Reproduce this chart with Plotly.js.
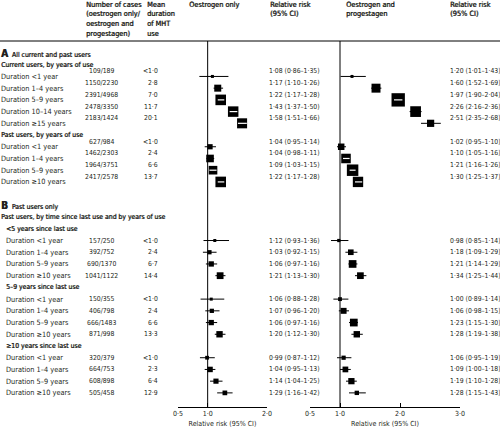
<!DOCTYPE html>
<html><head><meta charset="utf-8">
<script src="https://cdn.plot.ly/plotly-3.0.1.min.js"></script>
<style>html,body{margin:0;padding:0;background:#fff}</style>
</head><body><div id="chart" style="width:500px;height:428px"></div>
<script>
// ---------- data ----------
const sectionLetters = ["A", "B"];
const sectionTitles = ["All current and past users", "Past users only"];
const sectionBSubtitle = "Past users, by time since last use and by years of use";
const groupTitles = ["Current users, by years of use", "Past users, by years of use",
  "<5 years since last use", "5–9 years since last use", "≥10 years since last use"];
const groupSizes = [5, 4, 4, 4, 4];
const rowLabels = [
  "Duration <1 year", "Duration 1–4 years", "Duration 5–9 years", "Duration 10–14 years", "Duration ≥15 years",
  "Duration <1 year", "Duration 1–4 years", "Duration 5–9 years", "Duration ≥10 years",
  "Duration <1 year", "Duration 1–4 years", "Duration 5–9 years", "Duration ≥10 years",
  "Duration <1 year", "Duration 1–4 years", "Duration 5–9 years", "Duration ≥10 years",
  "Duration <1 year", "Duration 1–4 years", "Duration 5–9 years", "Duration ≥10 years"];
const casesEO = [109, 1150, 2391, 2478, 2183, 627, 1462, 1964, 2417, 157, 392, 690, 1041, 150, 406, 666, 871, 320, 664, 608, 505];
const casesEP = [189, 2230, 4968, 3350, 1424, 984, 2303, 3751, 2578, 250, 752, 1370, 1122, 355, 798, 1483, 998, 379, 753, 898, 458];
const meanDuration = ["<1·0", "2·8", "7·0", "11·7", "20·1", "<1·0", "2·4", "6·6", "13·7",
  "<1·0", "2·4", "6·7", "14·4", "<1·0", "2·4", "6·6", "13·3", "<1·0", "2·3", "6·4", "12·9"];
const eoRR = [1.08, 1.17, 1.22, 1.43, 1.58, 1.04, 1.04, 1.09, 1.22, 1.12, 1.03, 1.06, 1.21, 1.06, 1.07, 1.06, 1.20, 0.99, 1.04, 1.14, 1.29];
const eoLo = [0.86, 1.10, 1.17, 1.37, 1.51, 0.95, 0.98, 1.03, 1.17, 0.93, 0.92, 0.97, 1.13, 0.88, 0.96, 0.97, 1.12, 0.87, 0.95, 1.04, 1.16];
const eoHi = [1.35, 1.26, 1.28, 1.50, 1.66, 1.14, 1.11, 1.15, 1.28, 1.36, 1.15, 1.16, 1.30, 1.28, 1.20, 1.16, 1.30, 1.12, 1.13, 1.25, 1.42];
const epRR = [1.20, 1.60, 1.97, 2.26, 2.51, 1.02, 1.10, 1.21, 1.30, 0.98, 1.18, 1.21, 1.34, 1.00, 1.06, 1.23, 1.28, 1.06, 1.09, 1.19, 1.28];
const epLo = [1.01, 1.52, 1.90, 2.16, 2.35, 0.95, 1.05, 1.16, 1.25, 0.85, 1.09, 1.14, 1.25, 0.89, 0.98, 1.15, 1.19, 0.95, 1.00, 1.10, 1.15];
const epHi = [1.43, 1.69, 2.04, 2.36, 2.68, 1.10, 1.16, 1.26, 1.37, 1.14, 1.29, 1.29, 1.44, 1.14, 1.15, 1.30, 1.38, 1.19, 1.18, 1.28, 1.43];
const eoTickVals = [0.5, 1, 2];
const eoTickText = ["0·5", "1·0", "2·0"];
const epTickVals = [0.5, 1, 2, 3];
const epTickText = ["0·5", "1·0", "2·0", "3·0"];
const headCases = ["Number of cases", "(oestrogen only/", "oestrogen and", "progestagen)"];
const headMean = ["Mean", "duration", "of MHT", "use"];
const headEO = ["Oestrogen only"];
const headRR = ["Relative risk", "(95% CI)"];
const headEP = ["Oestrogen and", "progestagen"];
const axisTitle = "Relative risk (95% CI)";

// ---------- layout geometry ----------
const W = 500, H = 428;
const FONT = "'DejaVu Sans Condensed', 'Liberation Sans', sans-serif";
const TXT = "#231f20";
const BOLD = '0.45px 0 0 #231f20';
const FS = 7.3, FSN = 6.8, FSH = 7.3, FSG = 6.8;
const rowTop = 53, rowPitch = 11.72;
const yTopPx = 41, yBotPx = 407;
const yRange = [(yBotPx - rowTop) / rowPitch, (yTopPx - rowTop) / rowPitch];
const yDomain = [1 - yBotPx / H, 1 - yTopPx / H];
const xDom1 = [178 / W, 267 / W], xRange1 = [0.5, 2.0];
const xDom2 = [310 / W, 460 / W], xRange2 = [0.5, 3.0];
const pxPerUnit1 = (xDom1[1] - xDom1[0]) * W / (xRange1[1] - xRange1[0]);
const pxPerUnit2 = (xDom2[1] - xDom2[0]) * W / (xRange2[1] - xRange2[0]);

const fmt = v => v.toFixed(2).replace('.', '·');
const ann = [];
function txt(text, xpx, y, opts) {
  opts = opts || {};
  const f = {family: FONT, size: opts.size || FS, color: TXT};
  if (opts.bold) f.shadow = BOLD;
  ann.push({
    text: text, x: xpx / W, xref: 'paper', y: y, yref: opts.yref || 'y',
    xanchor: opts.xanchor || 'left', yanchor: 'middle', showarrow: false,
    yshift: opts.yshift || 0, borderpad: 0, font: f
  });
}
const B = {yref: 'paper', bold: true, size: FSH};

// header
const hdrY = [4.5, 14, 23.5, 33].map(p => 1 - p / H);
headCases.forEach((t, i) => txt(t, 85, hdrY[i], B));
headMean.forEach((t, i) => txt(t, 146, hdrY[i], B));
headEO.forEach((t, i) => txt(t, 188, hdrY[i], B));
headRR.forEach((t, i) => txt(t, 269, hdrY[i], B));
headEP.forEach((t, i) => txt(t, 345, hdrY[i], B));
headRR.forEach((t, i) => txt(t, 449, hdrY[i], B));

// rows
const dataRow = [];
let r = 0, k = 0;
function section(si) {
  txt('<b><span style="font-size:10px">' + sectionLetters[si] + '</span></b>\u00a0\u00a0' + sectionTitles[si], 0, r, {bold: true, size: FSG});
  r++;
}
function group(gi, indent, shift) {
  txt(groupTitles[gi], indent, r, {bold: true, size: FSG});
  r++;
  for (let i = 0; i < groupSizes[gi]; i++) {
    dataRow.push(r);
    txt(rowLabels[k], indent, r);
    txt(casesEO[k] + '/' + casesEP[k], 101.5, r, {xanchor: 'center', yshift: shift, size: FSN});
    txt(meanDuration[k], 159, r, {xanchor: 'right', yshift: shift, size: FSN});
    txt(fmt(eoRR[k]) + ' (' + fmt(eoLo[k]) + '–' + fmt(eoHi[k]) + ')', 268, r, {yshift: shift, size: FSN});
    txt(fmt(epRR[k]) + ' (' + fmt(epLo[k]) + '–' + fmt(epHi[k]) + ')', 449, r, {yshift: shift, size: FSN});
    r++; k++;
  }
}
section(0);
group(0, 0, 5);
group(1, 0, 5);
r++;
section(1);
txt(sectionBSubtitle, 0, r, {bold: true, size: FSG}); r++;
group(2, 5, 0);
group(3, 5, 0);
group(4, 5, 0);

// ---------- traces ----------
function forest(rr, lo, hi, xa, ppu) {
  const cx = [], cy = [], wx = [], wy = [], sz = [];
  rr.forEach((v, i) => {
    const s = Math.max(3, 0.95 / Math.log(hi[i] / lo[i]));
    sz.push(s);
    cx.push(lo[i], hi[i], null); cy.push(dataRow[i], dataRow[i], null);
    if ((hi[i] - lo[i]) * ppu < s - 1) { wx.push(lo[i], hi[i], null); wy.push(dataRow[i], dataRow[i], null); }
  });
  return [
    {x: cx, y: cy, xaxis: xa, yaxis: 'y', mode: 'lines', line: {color: '#000', width: 1}, hoverinfo: 'skip', showlegend: false},
    {x: rr, y: dataRow, xaxis: xa, yaxis: 'y', mode: 'markers',
     marker: {symbol: 'square', size: sz, color: '#000', opacity: 1, line: {width: 0}}, showlegend: false},
    {x: wx, y: wy, xaxis: xa, yaxis: 'y', mode: 'lines', line: {color: '#fff', width: 1.2}, hoverinfo: 'skip', showlegend: false}
  ];
}
const traces = forest(eoRR, eoLo, eoHi, 'x', pxPerUnit1).concat(forest(epRR, epLo, epHi, 'x2', pxPerUnit2));

function xaxis(dom, rng, tv, tt) {
  return {
    domain: dom, range: rng, anchor: 'y', showline: true, linecolor: '#000', linewidth: 1,
    ticks: 'inside', ticklen: 4, tickwidth: 1, tickcolor: '#000', tickvals: tv, ticktext: tt,
    tickfont: {family: FONT, size: 7, color: TXT}, showgrid: false, zeroline: false, fixedrange: true,
    title: {text: axisTitle, font: {family: FONT, size: 7, color: TXT}, standoff: 4}
  };
}

const layout = {
  width: W, height: H, margin: {l: 0, r: 0, t: 0, b: 0}, paper_bgcolor: '#fff', plot_bgcolor: 'rgba(0,0,0,0)',
  showlegend: false,
  xaxis: xaxis(xDom1, xRange1, eoTickVals, eoTickText),
  xaxis2: xaxis(xDom2, xRange2, epTickVals, epTickText),
  yaxis: {domain: yDomain, range: yRange, showticklabels: false, showgrid: false, zeroline: false, showline: false, ticks: '', fixedrange: true},
  annotations: ann,
  shapes: [
    {type: 'line', xref: 'paper', x0: 0, x1: 1, yref: 'paper', y0: yDomain[1], y1: yDomain[1], line: {color: '#000', width: 1}},
    {type: 'line', xref: 'x', x0: 1, x1: 1, yref: 'y domain', y0: 0, y1: 1, line: {color: '#000', width: 1}, layer: 'below'},
    {type: 'line', xref: 'x2', x0: 1, x1: 1, yref: 'y domain', y0: 0, y1: 1, line: {color: '#000', width: 1}, layer: 'below'}
  ]
};
Plotly.newPlot('chart', traces, layout, {displayModeBar: false, staticPlot: true});
</script></body></html>
